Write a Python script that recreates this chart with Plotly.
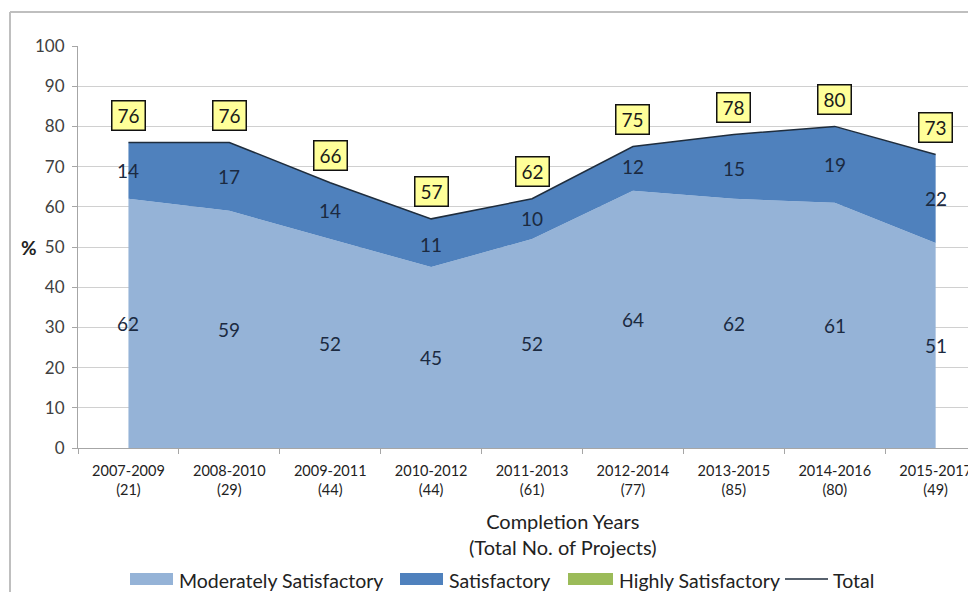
import plotly.graph_objects as go

periods = ["2007-2009", "2008-2010", "2009-2011", "2010-2012", "2011-2013",
           "2012-2014", "2013-2015", "2014-2016", "2015-2017"]
n_projects = [21, 29, 44, 44, 61, 77, 85, 80, 49]
moderately = [62, 59, 52, 45, 52, 64, 62, 61, 51]
satisfactory = [14, 17, 14, 11, 10, 12, 15, 19, 22]
highly = [0, 0, 0, 0, 0, 0, 0, 0, 0]
total = [76, 76, 66, 57, 62, 75, 78, 80, 73]
series_names = ["Moderately Satisfactory", "Satisfactory", "Highly Satisfactory", "Total"]

cats = [f"{p}<br>({n})" for p, n in zip(periods, n_projects)]

FONT = "Lato"
LIGHT = "#95B3D7"
DARK = "#4F81BD"
GREEN = "#9BBB59"
LINE = "#1F2D3D"
LBL = "#1B2A41"
TXT = "#222222"

fig = go.Figure()
fig.add_trace(go.Scatter(x=cats, y=moderately, name=series_names[0],
                         mode="lines", line=dict(width=0, color=LIGHT),
                         fill="tozeroy", fillcolor=LIGHT, hoverinfo="skip"))
fig.add_trace(go.Scatter(x=cats, y=total, name=series_names[1],
                         mode="lines", line=dict(width=0, color=DARK),
                         fill="tonexty", fillcolor=DARK, hoverinfo="skip"))
fig.add_trace(go.Scatter(x=cats, y=[t + h for t, h in zip(total, highly)],
                         name=series_names[2],
                         mode="lines", line=dict(width=0, color=GREEN),
                         fill="tonexty", fillcolor=GREEN, hoverinfo="skip"))
fig.add_trace(go.Scatter(x=cats, y=total, name=series_names[3], mode="lines",
                         line=dict(width=1.5, color=LINE), hoverinfo="skip"))

ann = []
for c, m, s, t in zip(cats, moderately, satisfactory, total):
    ann.append(dict(x=c, y=m / 2, text=str(m), showarrow=False,
                    font=dict(family=FONT, size=19, color=LBL)))
    ann.append(dict(x=c, y=m + s / 2, text=str(s), showarrow=False,
                    font=dict(family=FONT, size=19, color=LBL)))
    ann.append(dict(x=c, y=t, text=str(t), showarrow=False, yshift=27,
                    font=dict(family=FONT, size=19, color="#1a1a1a"),
                    bgcolor="#FFFF99", bordercolor="#111111", borderwidth=1.5,
                    borderpad=2, width=28, height=24))
ann.append(dict(xref="paper", yref="y", x=-0.0546, y=50, text="<b>%</b>",
                xanchor="center", yanchor="middle",
                showarrow=False, font=dict(family=FONT, size=19, color=TXT)))
ann.append(dict(xref="paper", yref="paper", x=0.5401, y=-0.2127,
                xanchor="center", yanchor="middle",
                text="Completion Years<br>(Total No. of Projects)", showarrow=False,
                font=dict(family=FONT, size=20, color=TXT)))

# manual legend (page px -> paper coords)
def px(X):
    return (X - 78) / 898

def py(Y):
    return (448 - Y) / 402

shapes = [
    dict(type="line", xref="paper", yref="paper", x0=px(10), x1=1.01,
         y0=py(12), y1=py(12), line=dict(color="#BFBFBF", width=2)),
    dict(type="line", xref="paper", yref="paper", x0=px(10), x1=px(10),
         y0=py(12), y1=py(600), line=dict(color="#BFBFBF", width=2)),
]
sw = [(130, 173, LIGHT), (400, 443, DARK), (568, 613, GREEN)]
for x0, x1, col in sw:
    shapes.append(dict(type="rect", xref="paper", yref="paper", x0=px(x0), x1=px(x1),
                       y0=py(585), y1=py(573), fillcolor=col, line=dict(width=0)))
shapes.append(dict(type="line", xref="paper", yref="paper", x0=px(785), x1=px(828),
                   y0=py(579), y1=py(579), line=dict(color=LINE, width=1.5)))
for X, name in zip([177, 447, 617, 831], series_names):
    ann.append(dict(xref="paper", yref="paper", x=px(X), y=py(580), text=name,
                    xanchor="left", yanchor="middle", showarrow=False,
                    font=dict(family=FONT, size=19.5, color=TXT)))

fig.update_layout(
    width=968, height=584,
    margin=dict(l=70, r=0, t=38, b=144),
    paper_bgcolor="white", plot_bgcolor="white",
    showlegend=False,
    annotations=ann,
    shapes=shapes,
    xaxis=dict(range=[-0.5, 8.4], showgrid=False, showline=True, linecolor="#A6A6A6",
               ticks="outside", tickson="boundaries", ticklen=5, tickcolor="#A6A6A6",
               ticklabelstandoff=10,
               tickfont=dict(family=FONT, size=14.5, color=TXT)),
    yaxis=dict(range=[0, 100], dtick=10, showgrid=True, gridcolor="#D0D0D0",
               showline=True, linecolor="#A6A6A6", ticks="outside", ticklen=5,
               tickcolor="#A6A6A6", zeroline=False, ticklabelstandoff=4,
               tickfont=dict(family=FONT, size=17, color="#404040")),
)

fig.write_html("out.html")
